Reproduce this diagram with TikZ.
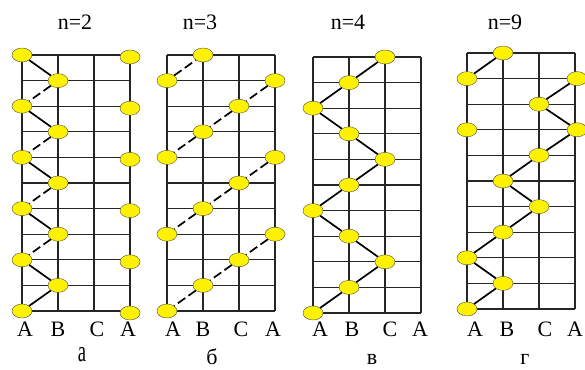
\documentclass[tikz,border=0pt]{standalone}
\usepackage{graphicx}
\usepackage{fontspec}
\setmainfont{Liberation Serif}
\newfontfamily\labelfont{Liberation Serif}
\usetikzlibrary{positioning,shapes.geometric}

\begin{document}
\begin{tikzpicture}[x=1pt, y=-1pt, every node/.style={font=\labelfont\fontsize{22}{26}\selectfont},
  dot/.style={draw=black!70, thin, fill=yellow, ellipse, minimum width=20pt, minimum height=14pt, inner sep=0pt},
  link/.style={line width=1.7pt},
  dlink/.style={link, dash pattern=on 9pt off 4pt},
  gridline/.style={line width=1.3pt, black!85},
  caption/.style={inner sep=0pt}]
  \useasboundingbox (0,0) rectangle (585,369);

  % grids of the four panels
  \foreach \x/\t in {22/55, 167/55, 313/57, 467/53} {
    \foreach \i in {0,...,10} \draw[gridline] (\x,\t+25.6*\i) -- ++(108,0);
    \foreach \j in {0,...,3} \draw[gridline] (\x+36*\j,\t) -- ++(0,256);
  }

  % panel a, n=2
  \foreach \r/\c in {0/0,1/1,2/0,3/1,4/0,5/1,6/0,7/1,8/0,9/1,10/0}
    \node[dot] (a\r) at (22+36*\c,55+25.6*\r) {};
  \foreach \r in {0,2,4,6,8,10}
    \node[dot] (aR\r) at (130,57+25.6*\r) {};
  \foreach \r in {0,2,4,6,8} {
    \pgfmathtruncatemacro\s{\r+1}
    \draw[link] (a\r) -- (a\s);
  }
  \foreach \r in {1,3,5,7} {
    \pgfmathtruncatemacro\s{\r+1}
    \draw[dlink] (a\r) -- (a\s);
  }
  \draw[link] (a9) -- (a10);

  % panel b, n=3
  \foreach \r/\c in {0/1,1/0,2/2,3/1,4/0,5/2,6/1,7/0,8/2,9/1,10/0}
    \node[dot] (b\r) at (167+36*\c,55+25.6*\r) {};
  \foreach \r in {1,4,7}
    \node[dot] (bR\r) at (275,55+25.6*\r) {};
  \draw[dlink] (b1) -- (b0);
  \draw[dlink] (bR1) -- (b2) -- (b3) -- (b4);
  \draw[dlink] (bR4) -- (b5) -- (b6) -- (b7);
  \draw[dlink] (bR7) -- (b8) -- (b9) -- (b10);

  % panel c, n=4
  \foreach \r/\c in {0/2,1/1,2/0,3/1,4/2,5/1,6/0,7/1,8/2,9/1,10/0}
    \node[dot] (c\r) at (313+36*\c,57+25.6*\r) {};
  \draw[link] (c0) -- (c1) -- (c2) -- (c3) -- (c4) -- (c5) -- (c6) -- (c7) -- (c8) -- (c9) -- (c10);

  % panel d, n=9
  \foreach \r/\c in {0/1,1/0,2/2,3/0,4/2,5/1,6/2,7/1,8/0,9/1,10/0}
    \node[dot] (d\r) at (467+36*\c,53+25.6*\r) {};
  \foreach \r in {1,3}
    \node[dot] (dR\r) at (577,53+25.6*\r) {};
  \draw[link] (d1) -- (d0);
  \draw[link] (dR1) -- (d2) -- (dR3) -- (d4) -- (d5) -- (d6) -- (d7) -- (d8) -- (d9) -- (d10);

  % titles
  \node (ta) at (75,22) {n=2};
  \node (tb) at (200,22) {n=3};
  \node (tc) at (348,22) {n=4};
  \node (td) at (505,22) {n=9};

  % column letters
  \foreach \x/\l [count=\k] in {25/A,58/B,97/C,128/A} \node (la\k) at (\x,329) {\l};
  \foreach \x/\l [count=\k] in {173/A,203/B,241/C,273/A} \node (lb\k) at (\x,329) {\l};
  \foreach \x/\l [count=\k] in {320/A,352/B,390/C,420/A} \node (lc\k) at (\x,329) {\l};
  \foreach \x/\l [count=\k] in {475/A,507/B,545/C,575/A} \node (ld\k) at (\x,329) {\l};

  % panel captions
  \node[caption] (capa) at (82,355) {\scalebox{0.62}[1]{\fontsize{30}{30}\selectfont а}};
  \node[caption] (capb) at (212,357) {б};
  \node[caption] (capc) at (372,359) {в};
  \node[caption] (capd) at (525,359) {г};
\end{tikzpicture}
\end{document}
